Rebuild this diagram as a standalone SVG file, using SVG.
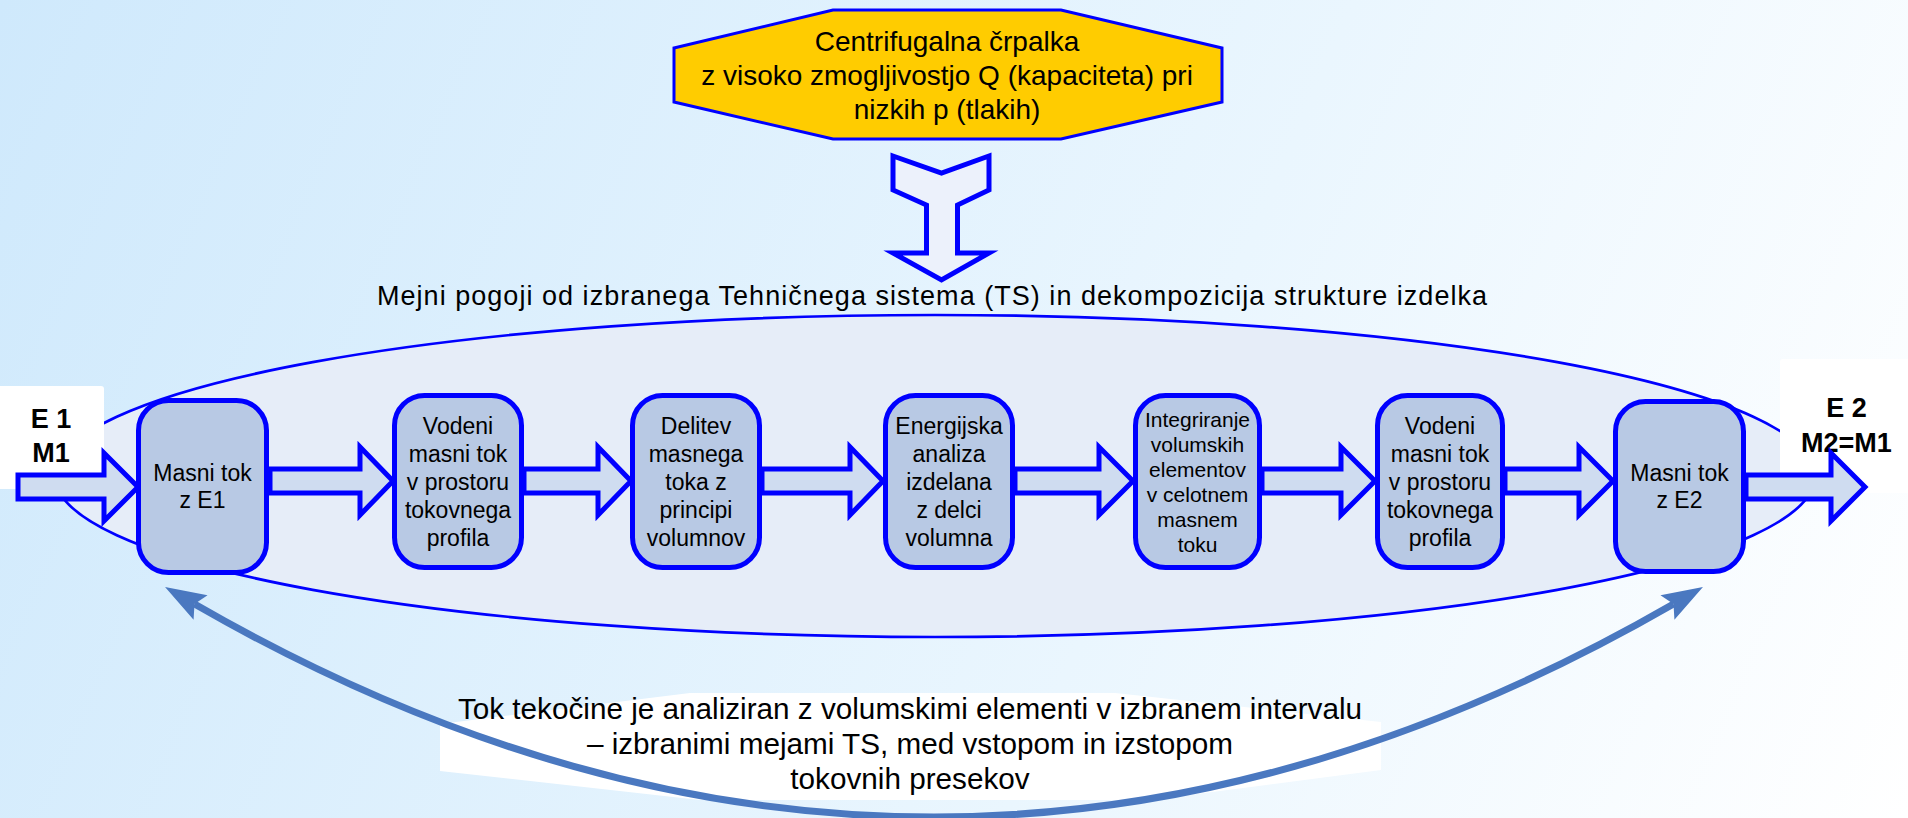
<svg xmlns="http://www.w3.org/2000/svg" width="1908" height="818" viewBox="0 0 1908 818">
<defs>
<linearGradient id="bg" gradientUnits="userSpaceOnUse" x1="0" y1="0" x2="1908" y2="818">
<stop offset="0" stop-color="#cfe9fc"/>
<stop offset="0.6" stop-color="#eaf6fe"/>
<stop offset="1" stop-color="#ffffff"/>
</linearGradient>
<marker id="headEnd" viewBox="-45 -20 90 40" markerWidth="90" markerHeight="40" refX="7" refY="0" orient="auto" markerUnits="userSpaceOnUse" overflow="visible">
<path d="M41,0 L0,-14 L7,0 L0,14 Z" fill="#4a78c0"/>
</marker>
<marker id="headStart" viewBox="-45 -20 90 40" markerWidth="90" markerHeight="40" refX="-7" refY="0" orient="auto" markerUnits="userSpaceOnUse" overflow="visible">
<path d="M-41,0 L0,-14 L-7,0 L0,14 Z" fill="#4a78c0"/>
</marker>
</defs>
<style>
text{font-family:"Liberation Sans",Arial,Helvetica,sans-serif;fill:#000}
.box{fill:#b8c9e4;stroke:#0000ff;stroke-width:5}
.lbl{font-size:23px;text-anchor:middle}
.small{font-size:21px;text-anchor:middle}
.blk{fill:#cfdcf0;stroke:#0000ff;stroke-width:5;stroke-linejoin:miter}
.bold{font-size:27px;font-weight:bold;text-anchor:middle}
.white{fill:#ffffff}
.hex{font-size:28px;text-anchor:middle}
.cap{font-size:29.7px;text-anchor:middle}
</style>
<rect x="0" y="0" width="1908" height="818" fill="url(#bg)"/>

<g id="boundary">
<ellipse cx="935" cy="476" rx="880" ry="161" fill="#e6edf8" stroke="#0000ff" stroke-width="2.7"/>
</g>

<g id="note">
<polygon class="white" points="440,724 690,693 1115,693 1381,722 1381,770 1150,800 700,800 440,771"/>
</g>

<g id="in">
<rect class="white" x="-4" y="386" width="108" height="103" rx="3"/>
<text class="bold" x="51" y="428">E 1</text>
<text class="bold" x="51" y="462">M1</text>
</g>

<g id="out">
<rect class="white" x="1780" y="359" width="132" height="134" rx="3"/>
<text class="bold" x="1846.5" y="417">E 2</text>
<text class="bold" x="1846.5" y="452">M2=M1</text>
</g>

<g id="pump">
<polygon points="674,48 833,10 1061,10 1222,48 1222,102 1061,139 833,139 674,102" fill="#ffcc00" stroke="#0000ff" stroke-width="3"/>
<text class="hex" x="947" y="51">Centrifugalna črpalka</text>
<text class="hex" x="947" y="85">z visoko zmogljivostjo Q (kapaciteta) pri</text>
<text class="hex" x="947" y="119">nizkih p (tlakih)</text>
</g>

<g id="title">
<text x="377" y="305" font-size="27" textLength="1110" lengthAdjust="spacing">Mejni pogoji od izbranega Tehničnega sistema (TS) in dekompozicija strukture izdelka</text>
</g>

<g id="caption">
<text class="cap" x="910" y="719">Tok tekočine je analiziran z volumskimi elementi v izbranem intervalu</text>
<text class="cap" x="910" y="754">– izbranimi mejami TS, med vstopom in izstopom</text>
<text class="cap" x="910" y="789">tokovnih presekov</text>
</g>

<g id="connectors">
<polygon points="893,156 941.5,173 989,156 989,190 957.5,205 957.5,253 989,253 941.5,280 893,253 926.5,253 926.5,205 893,190" fill="#ecf1fb" stroke="#0000ff" stroke-width="5" stroke-linejoin="miter"/>
<path class="blk" d="M18,475 L104,475 L104,453 L138,487 L104,521 L104,499 L18,499 Z"/>
<path class="blk" d="M270,469 L360,469 L360,447 L393,481 L360,515 L360,493 L270,493 Z"/>
<path class="blk" d="M524,469 L598,469 L598,447 L631,481 L598,515 L598,493 L524,493 Z"/>
<path class="blk" d="M762,469 L850,469 L850,447 L883,481 L850,515 L850,493 L762,493 Z"/>
<path class="blk" d="M1015,469 L1099,469 L1099,447 L1133,481 L1099,515 L1099,493 L1015,493 Z"/>
<path class="blk" d="M1262,469 L1341,469 L1341,447 L1375,481 L1341,515 L1341,493 L1262,493 Z"/>
<path class="blk" d="M1505,469 L1579,469 L1579,447 L1613,481 L1579,515 L1579,493 L1505,493 Z"/>
<path class="blk" d="M1746,475 L1831,475 L1831,453 L1865,487 L1831,521 L1831,499 L1746,499 Z"/>
<path d="M194.5,604 Q934,1030 1673.5,604" fill="none" stroke="#4a78c0" stroke-width="7" marker-start="url(#headStart)" marker-end="url(#headEnd)"/>
</g>

<g id="n1">
<rect class="box" x="138.5" y="400.5" width="128" height="172" rx="30"/>
<text class="lbl" x="202.5" y="481">Masni tok</text>
<text class="lbl" x="202.5" y="508">z E1</text>
</g>
<g id="n2">
<rect class="box" x="394.5" y="395.5" width="127" height="172" rx="30"/>
<text class="lbl" x="458" y="434">Vodeni</text>
<text class="lbl" x="458" y="462">masni tok</text>
<text class="lbl" x="458" y="490">v prostoru</text>
<text class="lbl" x="458" y="518">tokovnega</text>
<text class="lbl" x="458" y="546">profila</text>
</g>
<g id="n3">
<rect class="box" x="632.5" y="395.5" width="127" height="172" rx="30"/>
<text class="lbl" x="696" y="434">Delitev</text>
<text class="lbl" x="696" y="462">masnega</text>
<text class="lbl" x="696" y="490">toka z</text>
<text class="lbl" x="696" y="518">principi</text>
<text class="lbl" x="696" y="546">volumnov</text>
</g>
<g id="n4">
<rect class="box" x="885.5" y="395.5" width="127" height="172" rx="30"/>
<text class="lbl" x="949" y="434">Energijska</text>
<text class="lbl" x="949" y="462">analiza</text>
<text class="lbl" x="949" y="490">izdelana</text>
<text class="lbl" x="949" y="518">z delci</text>
<text class="lbl" x="949" y="546">volumna</text>
</g>
<g id="n5">
<rect class="box" x="1135.5" y="395.5" width="124" height="172" rx="30"/>
<text class="small" x="1197.5" y="426.5">Integriranje</text>
<text class="small" x="1197.5" y="451.5">volumskih</text>
<text class="small" x="1197.5" y="476.5">elementov</text>
<text class="small" x="1197.5" y="501.5">v celotnem</text>
<text class="small" x="1197.5" y="526.5">masnem</text>
<text class="small" x="1197.5" y="551.5">toku</text>
</g>
<g id="n6">
<rect class="box" x="1377.5" y="395.5" width="125" height="172" rx="30"/>
<text class="lbl" x="1440" y="434">Vodeni</text>
<text class="lbl" x="1440" y="462">masni tok</text>
<text class="lbl" x="1440" y="490">v prostoru</text>
<text class="lbl" x="1440" y="518">tokovnega</text>
<text class="lbl" x="1440" y="546">profila</text>
</g>
<g id="n7">
<rect class="box" x="1615.5" y="401.5" width="128" height="170" rx="30"/>
<text class="lbl" x="1679.5" y="481">Masni tok</text>
<text class="lbl" x="1679.5" y="508">z E2</text>
</g>
</svg>
